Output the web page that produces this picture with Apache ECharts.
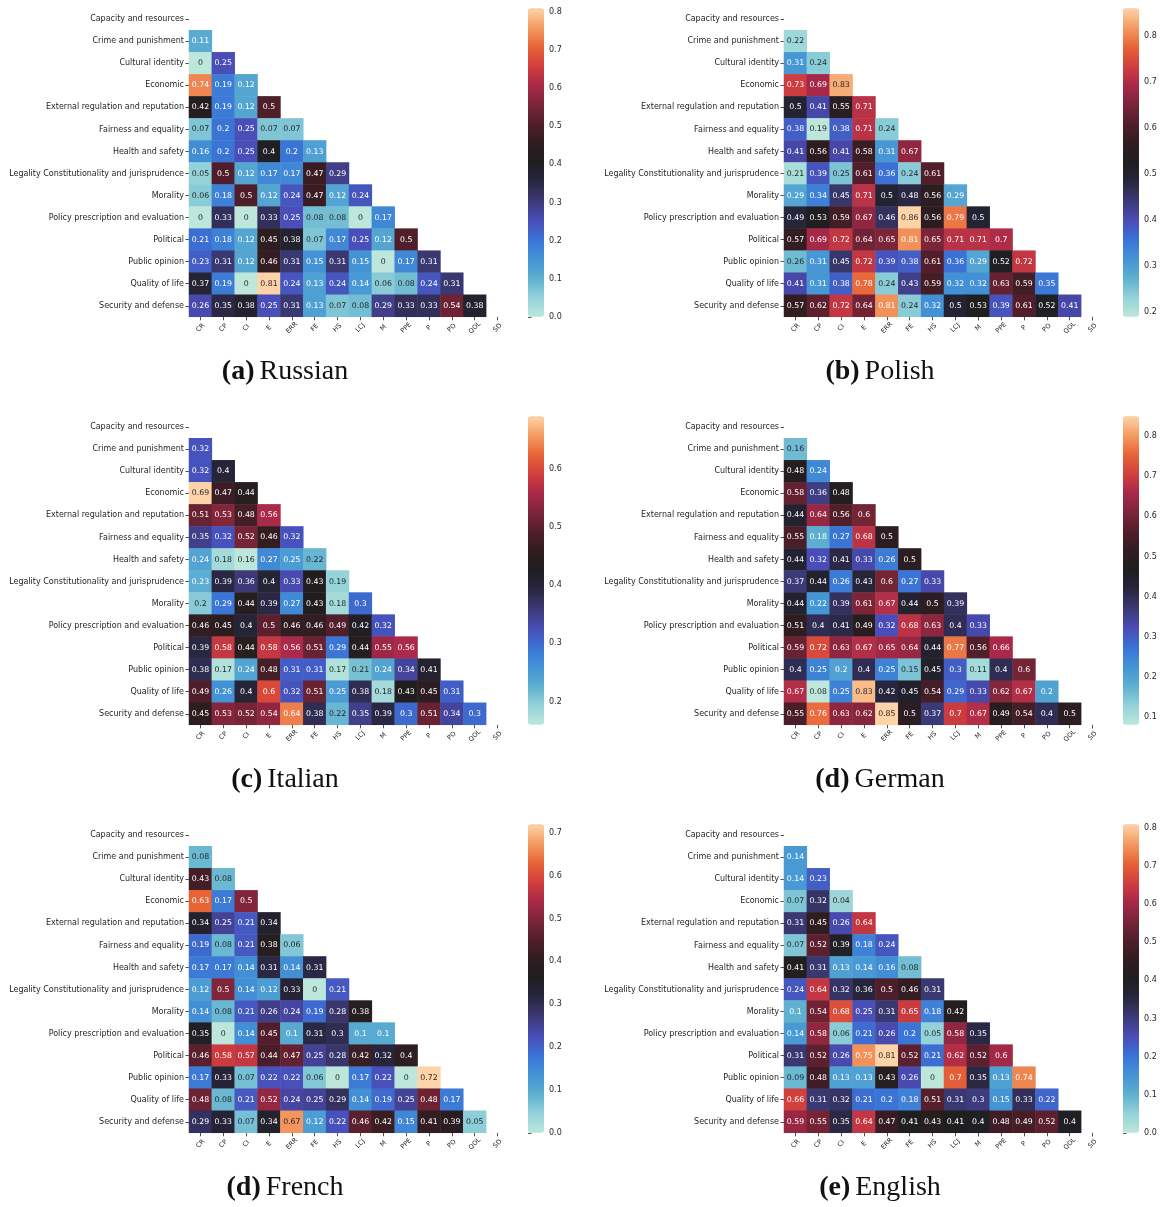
<!DOCTYPE html>
<html>
<head>
<meta charset="utf-8">
<script src="https://cdn.jsdelivr.net/npm/echarts@6/dist/echarts.min.js"></script>
<style>
  html, body { margin: 0; padding: 0; background: #ffffff; }
  #chart { width: 1163px; height: 1207px; }
</style>
</head>
<body>
<div id="chart"></div>
<script>
// Topic categories (rows) and their abbreviations (columns)
const topics = [
  'Capacity and resources', 'Crime and punishment', 'Cultural identity', 'Economic',
  'External regulation and reputation', 'Fairness and equality', 'Health and safety',
  'Legality Constitutionality and jurisprudence', 'Morality', 'Policy prescription and evaluation',
  'Political', 'Public opinion', 'Quality of life', 'Security and defense'
];
const codes = ['CR', 'CP', 'CI', 'E', 'ERR', 'FE', 'HS', 'LCJ', 'M', 'PPE', 'P', 'PO', 'QOL', 'SD'];

// Lower-triangle correlation values, one list per row (row 1 .. row 13)
const russian = [
  [0.11],
  [0, 0.25],
  [0.74, 0.19, 0.12],
  [0.42, 0.19, 0.12, 0.5],
  [0.07, 0.2, 0.25, 0.07, 0.07],
  [0.16, 0.2, 0.25, 0.4, 0.2, 0.13],
  [0.05, 0.5, 0.12, 0.17, 0.17, 0.47, 0.29],
  [0.06, 0.18, 0.5, 0.12, 0.24, 0.47, 0.12, 0.24],
  [0, 0.33, 0, 0.33, 0.25, 0.08, 0.08, 0, 0.17],
  [0.21, 0.18, 0.12, 0.45, 0.38, 0.07, 0.17, 0.25, 0.12, 0.5],
  [0.23, 0.31, 0.12, 0.46, 0.31, 0.15, 0.31, 0.15, 0, 0.17, 0.31],
  [0.37, 0.19, 0, 0.81, 0.24, 0.13, 0.24, 0.14, 0.06, 0.08, 0.24, 0.31],
  [0.26, 0.35, 0.38, 0.25, 0.31, 0.13, 0.07, 0.08, 0.29, 0.33, 0.33, 0.54, 0.38]
];
const polish = [
  [0.22],
  [0.31, 0.24],
  [0.73, 0.69, 0.83],
  [0.5, 0.41, 0.55, 0.71],
  [0.38, 0.19, 0.38, 0.71, 0.24],
  [0.41, 0.56, 0.41, 0.58, 0.31, 0.67],
  [0.21, 0.39, 0.25, 0.61, 0.36, 0.24, 0.61],
  [0.29, 0.34, 0.45, 0.71, 0.5, 0.48, 0.56, 0.29],
  [0.49, 0.53, 0.59, 0.67, 0.46, 0.86, 0.56, 0.79, 0.5],
  [0.57, 0.69, 0.72, 0.64, 0.65, 0.81, 0.65, 0.71, 0.71, 0.7],
  [0.26, 0.31, 0.45, 0.72, 0.39, 0.38, 0.61, 0.36, 0.29, 0.52, 0.72],
  [0.41, 0.31, 0.38, 0.78, 0.24, 0.43, 0.59, 0.32, 0.32, 0.63, 0.59, 0.35],
  [0.57, 0.62, 0.72, 0.64, 0.81, 0.24, 0.32, 0.5, 0.53, 0.39, 0.61, 0.52, 0.41]
];
const italian = [
  [0.32],
  [0.32, 0.4],
  [0.69, 0.47, 0.44],
  [0.51, 0.53, 0.48, 0.56],
  [0.35, 0.32, 0.52, 0.46, 0.32],
  [0.24, 0.18, 0.16, 0.27, 0.25, 0.22],
  [0.23, 0.39, 0.36, 0.4, 0.33, 0.43, 0.19],
  [0.2, 0.29, 0.44, 0.39, 0.27, 0.43, 0.18, 0.3],
  [0.46, 0.45, 0.4, 0.5, 0.46, 0.46, 0.49, 0.42, 0.32],
  [0.39, 0.58, 0.44, 0.58, 0.56, 0.51, 0.29, 0.44, 0.55, 0.56],
  [0.38, 0.17, 0.24, 0.48, 0.31, 0.31, 0.17, 0.21, 0.24, 0.34, 0.41],
  [0.49, 0.26, 0.4, 0.6, 0.32, 0.51, 0.25, 0.38, 0.18, 0.43, 0.45, 0.31],
  [0.45, 0.53, 0.52, 0.54, 0.64, 0.38, 0.22, 0.35, 0.39, 0.3, 0.51, 0.34, 0.3]
];
const german = [
  [0.16],
  [0.48, 0.24],
  [0.58, 0.36, 0.48],
  [0.44, 0.64, 0.56, 0.6],
  [0.55, 0.18, 0.27, 0.68, 0.5],
  [0.44, 0.32, 0.41, 0.33, 0.26, 0.5],
  [0.37, 0.44, 0.26, 0.43, 0.6, 0.27, 0.33],
  [0.44, 0.22, 0.39, 0.61, 0.67, 0.44, 0.5, 0.39],
  [0.51, 0.4, 0.41, 0.49, 0.32, 0.68, 0.63, 0.4, 0.33],
  [0.59, 0.72, 0.63, 0.67, 0.65, 0.64, 0.44, 0.77, 0.56, 0.66],
  [0.4, 0.25, 0.2, 0.4, 0.25, 0.15, 0.45, 0.3, 0.11, 0.4, 0.6],
  [0.67, 0.08, 0.25, 0.83, 0.42, 0.45, 0.54, 0.29, 0.33, 0.62, 0.67, 0.2],
  [0.55, 0.76, 0.63, 0.62, 0.85, 0.5, 0.37, 0.7, 0.67, 0.49, 0.54, 0.4, 0.5]
];
const french = [
  [0.08],
  [0.43, 0.08],
  [0.63, 0.17, 0.5],
  [0.34, 0.25, 0.21, 0.34],
  [0.19, 0.08, 0.21, 0.38, 0.06],
  [0.17, 0.17, 0.14, 0.31, 0.14, 0.31],
  [0.12, 0.5, 0.14, 0.12, 0.33, 0, 0.21],
  [0.14, 0.08, 0.21, 0.26, 0.24, 0.19, 0.28, 0.38],
  [0.35, 0, 0.14, 0.45, 0.1, 0.31, 0.3, 0.1, 0.1],
  [0.46, 0.58, 0.57, 0.44, 0.47, 0.25, 0.28, 0.42, 0.32, 0.4],
  [0.17, 0.33, 0.07, 0.22, 0.22, 0.06, 0, 0.17, 0.22, 0, 0.72],
  [0.48, 0.08, 0.21, 0.52, 0.24, 0.25, 0.29, 0.14, 0.19, 0.25, 0.48, 0.17],
  [0.29, 0.33, 0.07, 0.34, 0.67, 0.12, 0.22, 0.46, 0.42, 0.15, 0.41, 0.39, 0.05]
];
const english = [
  [0.14],
  [0.14, 0.23],
  [0.07, 0.32, 0.04],
  [0.31, 0.45, 0.26, 0.64],
  [0.07, 0.52, 0.39, 0.18, 0.24],
  [0.41, 0.31, 0.13, 0.14, 0.16, 0.08],
  [0.24, 0.64, 0.32, 0.36, 0.5, 0.46, 0.31],
  [0.1, 0.54, 0.68, 0.25, 0.31, 0.65, 0.18, 0.42],
  [0.14, 0.58, 0.06, 0.21, 0.26, 0.2, 0.05, 0.58, 0.35],
  [0.31, 0.52, 0.26, 0.75, 0.81, 0.52, 0.21, 0.62, 0.52, 0.6],
  [0.09, 0.48, 0.13, 0.13, 0.43, 0.26, 0, 0.7, 0.35, 0.13, 0.74],
  [0.66, 0.31, 0.32, 0.21, 0.2, 0.18, 0.51, 0.31, 0.3, 0.15, 0.33, 0.22],
  [0.59, 0.55, 0.35, 0.64, 0.47, 0.41, 0.43, 0.41, 0.4, 0.48, 0.49, 0.52, 0.4]
];

// Colour-bar tick labels per panel
const ticksRussian = [0.0, 0.1, 0.2, 0.3, 0.4, 0.5, 0.6, 0.7, 0.8];
const ticksPolish  = [0.2, 0.3, 0.4, 0.5, 0.6, 0.7, 0.8];
const ticksItalian = [0.2, 0.3, 0.4, 0.5, 0.6];
const ticksGerman  = [0.1, 0.2, 0.3, 0.4, 0.5, 0.6, 0.7, 0.8];
const ticksFrench  = [0.0, 0.1, 0.2, 0.3, 0.4, 0.5, 0.6, 0.7];
const ticksEnglish = [0.0, 0.1, 0.2, 0.3, 0.4, 0.5, 0.6, 0.7, 0.8];

// Diverging "icefire" style palette, evenly spaced stops
const icefire = [
  '#bde7db', '#93d2d9', '#5eb0d0', '#4393d5', '#3a73d6', '#4a4cb7', '#3d3a78', '#28263f',
  '#1f1e20', '#301d21', '#521e2b', '#7b2538', '#a8284a', '#d13f3e', '#e86437', '#f49b62', '#fdd3a7'
];

function hexRgb(h) {
  return [parseInt(h.slice(1, 3), 16), parseInt(h.slice(3, 5), 16), parseInt(h.slice(5, 7), 16)];
}
function colorAt(f) {
  const n = icefire.length - 1;
  const p = Math.max(0, Math.min(1, f)) * n;
  const i = Math.min(n - 1, Math.floor(p));
  const t = p - i;
  const a = hexRgb(icefire[i]), b = hexRgb(icefire[i + 1]);
  return a.map((v, k) => v + (b[k] - v) * t);
}
function luminance(rgb) {
  const lin = rgb.map(v => {
    v /= 255;
    return v <= 0.03928 ? v / 12.92 : Math.pow((v + 0.055) / 1.055, 2.4);
  });
  return 0.2126 * lin[0] + 0.7152 * lin[1] + 0.0722 * lin[2];
}

const panels = [
  { tag: '(a)', name: 'Russian', rows: russian, ticks: ticksRussian, col: 0, row: 0 },
  { tag: '(b)', name: 'Polish',  rows: polish,  ticks: ticksPolish,  col: 1, row: 0 },
  { tag: '(c)', name: 'Italian', rows: italian, ticks: ticksItalian, col: 0, row: 1 },
  { tag: '(d)', name: 'German',  rows: german,  ticks: ticksGerman,  col: 1, row: 1 },
  { tag: '(d)', name: 'French',  rows: french,  ticks: ticksFrench,  col: 0, row: 2 },
  { tag: '(e)', name: 'English', rows: english, ticks: ticksEnglish, col: 1, row: 2 }
];

const DX = 595, DY = 408;
const HM = { left: 189, top: 8.2, width: 320, height: 308.6 };
const CB = { left: 528, width: 16 };
const ink = '#262626';
const sans = 'DejaVu Sans';

const option = {
  backgroundColor: '#ffffff',
  animation: false,
  title: [], grid: [], xAxis: [], yAxis: [], visualMap: [], series: []
};

panels.forEach((p, i) => {
  const ox = p.col * DX, oy = p.row * DY;
  const flat = p.rows.flat();
  const vmin = Math.min(...flat), vmax = Math.max(...flat);

  const data = [];
  p.rows.forEach((vals, r) => {
    vals.forEach((v, c) => {
      const lum = luminance(colorAt((v - vmin) / (vmax - vmin)));
      data.push({ value: [c, r + 1, v], label: { color: lum > 0.408 ? ink : '#ffffff' } });
    });
  });

  option.grid.push({ left: HM.left + ox, top: HM.top + oy, width: HM.width, height: HM.height });
  option.grid.push({ left: CB.left + ox, top: HM.top + oy, width: CB.width, height: HM.height });

  option.xAxis.push({
    type: 'category', gridIndex: 2 * i, data: codes,
    axisLine: { show: false },
    axisTick: { show: true, alignWithLabel: true, length: 3.5, lineStyle: { color: ink, width: 0.8 } },
    axisLabel: { rotate: 45, align: 'center', verticalAlign: 'middle', margin: 11,
                 fontFamily: sans, fontSize: 6.5, color: ink, interval: 0 },
    splitLine: { show: false }, splitArea: { show: false }
  });
  option.yAxis.push({
    type: 'category', gridIndex: 2 * i, data: topics, inverse: true,
    axisLine: { show: false },
    axisTick: { show: true, alignWithLabel: true, length: 3.5, lineStyle: { color: ink, width: 0.8 } },
    axisLabel: { margin: 5, fontFamily: sans, fontSize: 8, color: ink, interval: 0 },
    splitLine: { show: false }, splitArea: { show: false }
  });

  option.xAxis.push({ type: 'value', gridIndex: 2 * i + 1, show: false, min: 0, max: 1 });
  option.yAxis.push({
    type: 'value', gridIndex: 2 * i + 1, position: 'right', min: vmin, max: vmax,
    axisLine: { show: false },
    axisTick: { show: true, length: 3.5, customValues: p.ticks, lineStyle: { color: ink, width: 0.8 } },
    axisLabel: { show: true, margin: 5, customValues: p.ticks, fontFamily: sans, fontSize: 8, color: ink,
                 formatter: v => v.toFixed(1) },
    splitLine: { show: false }
  });

  option.visualMap.push({
    type: 'continuous', seriesIndex: i, dimension: 2, min: vmin, max: vmax,
    calculable: false, hoverLink: false, padding: 0,
    left: CB.left + ox, top: HM.top + oy, itemWidth: CB.width, itemHeight: HM.height,
    inRange: { color: icefire }
  });

  option.series.push({
    type: 'heatmap', xAxisIndex: 2 * i, yAxisIndex: 2 * i, data: data,
    label: { show: true, fontFamily: sans, fontSize: 7.8, formatter: d => String(d.value[2]) },
    itemStyle: { borderWidth: 0 },
    emphasis: { disabled: true }
  });

  option.title.push({
    text: '{b|' + p.tag + '} {n|' + p.name + '}',
    left: 285 + ox, top: 356 + oy, textAlign: 'center', padding: 0,
    textStyle: {
      fontWeight: 'normal',
      rich: {
        b: { fontFamily: 'Liberation Serif', fontWeight: 'bold', fontSize: 28, color: '#111', lineHeight: 32 },
        n: { fontFamily: 'Liberation Serif', fontWeight: 'normal', fontSize: 28, color: '#111', lineHeight: 32 }
      }
    }
  });
});

const chart = echarts.init(document.getElementById('chart'), null, { renderer: 'canvas' });
chart.setOption(option);
</script>
</body>
</html>
